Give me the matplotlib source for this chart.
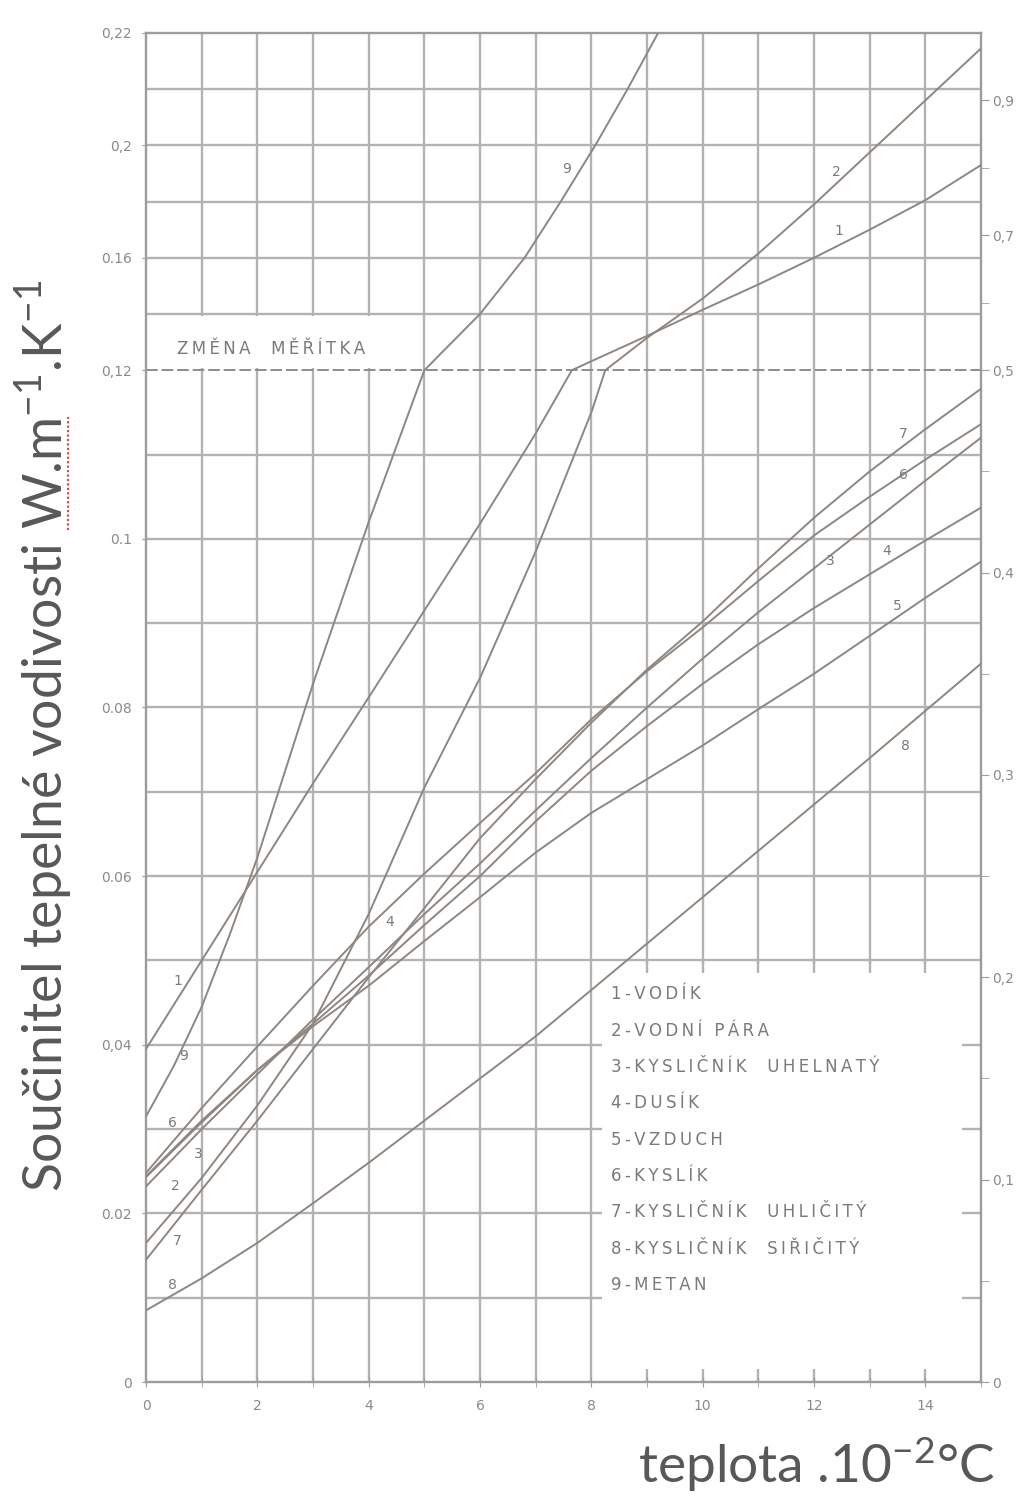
import numpy as np
import matplotlib.pyplot as plt
from matplotlib.patches import Rectangle
from matplotlib.lines import Line2D

plt.rcParams["mathtext.default"] = "regular"

# teplota .10^-2 °C
t = [0, 1, 2, 3, 4, 5, 6, 7, 8, 9, 10, 11, 12, 13, 14, 15]

# 1 - vodik
t1 = [0, 1, 2, 3, 4, 5, 6, 7, 7.65, 8, 9, 10, 11, 12, 13, 14, 15]
lam1 = [0.0395, 0.050, 0.0605, 0.071, 0.0812, 0.0915, 0.1018, 0.1125, 0.12,
        0.1232, 0.1322, 0.1415, 0.1505, 0.160, 0.170, 0.1805, 0.193]
# 2 - vodni para
t2 = [0, 1, 2, 3, 4, 5, 6, 7, 8, 8.25, 9, 10, 11, 12, 13, 14, 15]
lam2 = [0.0165, 0.0242, 0.0328, 0.0425, 0.0555, 0.0705, 0.0835, 0.0985, 0.115,
        0.12, 0.1315, 0.1455, 0.1615, 0.179, 0.1975, 0.216, 0.2345]
# 3 az 8 - stejna teplotni rada t
lam3 = [0.0232, 0.030, 0.0365, 0.043, 0.0492, 0.0555, 0.0615, 0.0678, 0.074,
        0.080, 0.0858, 0.0913, 0.0965, 0.1017, 0.1069, 0.112]
lam4 = [0.0243, 0.0308, 0.037, 0.0425, 0.0482, 0.0542, 0.060, 0.0665, 0.0725,
        0.0778, 0.0828, 0.0875, 0.0918, 0.0958, 0.0998, 0.1037]
lam5 = [0.0244, 0.031, 0.037, 0.0422, 0.047, 0.0523, 0.0575, 0.0628, 0.0675,
        0.0715, 0.0755, 0.0798, 0.084, 0.0885, 0.093, 0.0973]
lam6 = [0.0248, 0.0325, 0.0398, 0.047, 0.054, 0.0603, 0.0663, 0.0722, 0.0786,
        0.0843, 0.0895, 0.095, 0.1004, 0.105, 0.1094, 0.1136]
lam7 = [0.0145, 0.0228, 0.031, 0.0395, 0.048, 0.0562, 0.0645, 0.0715, 0.0782,
        0.0845, 0.0902, 0.0965, 0.1025, 0.108, 0.113, 0.1178]
lam8 = [0.0085, 0.0123, 0.0165, 0.0212, 0.026, 0.031, 0.036, 0.041, 0.0465,
        0.052, 0.0575, 0.063, 0.0685, 0.074, 0.0796, 0.0852]
# 9 - metan
t9 = [0, 0.5, 1, 1.5, 2, 3, 4, 5, 6, 6.8, 7.45, 8.07, 8.65, 9.2]
lam9 = [0.0315, 0.0375, 0.0445, 0.053, 0.0622, 0.0828, 0.102, 0.12, 0.14,
        0.16, 0.18, 0.20, 0.22, 0.24]

gases = ["1-VODÍK", "2-VODNÍ PÁRA", "3-KYSLIČNÍK  UHELNATÝ", "4-DUSÍK",
         "5-VZDUCH", "6-KYSLÍK", "7-KYSLIČNÍK  UHLIČITÝ",
         "8-KYSLIČNÍK  SIŘIČITÝ", "9-METAN"]

left_ticks = [0, 0.02, 0.04, 0.06, 0.08, 0.10, 0.12, 0.16, 0.20, 0.24]
left_labels = ["0", "0.02", "0,04", "0.06", "0.08", "0.1", "0,12", "0.16",
               "0,2", "0,22"]
right_ticks = [0, 0.1, 0.2, 0.3, 0.4, 0.5, 0.7, 0.9]
right_labels = ["0", "0,1", "0,2", "0,3", "0,4", "0,5", "0,7", "0,9"]
right_minor = [0.05, 0.15, 0.25, 0.35, 0.45, 0.6, 0.8]
LEFT_PER_RIGHT = 0.24

# cisla u krivek: (text, x, y)
curve_tags = [("9", 7.55, 0.1916), ("2", 12.4, 0.1906), ("1", 12.45, 0.1694),
              ("7", 13.6, 0.1124), ("6", 13.6, 0.1076), ("3", 12.3, 0.0974),
              ("4", 13.3, 0.0986), ("5", 13.5, 0.092), ("8", 13.65, 0.0754),
              ("4", 4.37, 0.0545), ("1", 0.58, 0.0476), ("9", 0.67, 0.0387),
              ("6", 0.47, 0.0307), ("3", 0.94, 0.0271), ("2", 0.52, 0.0232),
              ("7", 0.56, 0.0167), ("8", 0.47, 0.0115)]

BREAK = 0.12
GRID_C = "#b2b2b2"
LINE_C = "#8f8680"
TEXT_C = "#7a7a7a"


def fwd(y):
    y = np.asarray(y, dtype=float)
    return np.where(y <= BREAK, y, BREAK + (y - BREAK) / 3)


def inv(v):
    v = np.asarray(v, dtype=float)
    return np.where(v <= BREAK, v, BREAK + (v - BREAK) * 3)


def spaced(s):
    return "\u2009".join(s)


fig = plt.figure(figsize=(10.32, 14.97), dpi=100)
ax = fig.add_axes([0.1415, 0.0768, 0.8091, 0.9012])
ax.set_yscale("function", functions=(fwd, inv))
ax.set_xlim(0, 15)
ax.set_ylim(0, 0.24)

# mrizka
gx = np.arange(1, 15)
gy = np.r_[np.arange(0.01, 0.115, 0.01), np.arange(0.14, 0.235, 0.02)]
ax.vlines(gx, 0, 0.24, color=GRID_C, lw=1.7, zorder=0.5)
ax.hlines(gy, 0, 15, color=GRID_C, lw=1.7, zorder=0.5)
ax.hlines(BREAK, 0, 15, color="#8c8c8c", lw=1.4, ls=(0, (6, 2)), zorder=2)

# bile pole pod napisem a pro legendu
ax.add_patch(Rectangle((0.03, 0.1207), 4.5, 0.0185, fc="white", ec="none",
                       zorder=1))
ax.add_patch(Rectangle((8.03, 0.0004), 6.94, 0.0492, fc="white", ec="none",
                       zorder=1))
# zbytky mrizky po okraji legendy
ax.vlines(gx[gx > 8], 0, 0.0015, color=GRID_C, lw=1.7, zorder=1.2)
ax.vlines(gx[gx > 8], 0.0485, 0.05, color=GRID_C, lw=1.7, zorder=1.2)
ax.hlines(gy[gy < 0.05], 8, 8.2, color=GRID_C, lw=1.7, zorder=1.2)
ax.hlines(gy[gy < 0.05], 14.65, 15, color=GRID_C, lw=1.7, zorder=1.2)

for xs, ys in [(t1, lam1), (t2, lam2), (t, lam3), (t, lam4), (t, lam5),
               (t, lam6), (t, lam7), (t, lam8), (t9, lam9)]:
    ax.plot(xs, ys, color=LINE_C, lw=1.4, zorder=3)

for s, x, y in curve_tags:
    ax.text(x, y, s, fontsize=10, color=TEXT_C, ha="center", va="center",
            zorder=4)

ax.text(0.55, 0.1275, spaced("ZMĚNA  MĚŘÍTKA"), fontsize=12, color=TEXT_C,
        ha="left", va="center", zorder=4)

for i, g in enumerate(gases):
    ax.text(8.35, 0.046 - i * 0.00431, spaced(g), fontsize=12, color=TEXT_C,
            ha="left", va="center", zorder=4)

for sp in ax.spines.values():
    sp.set_color("#9c9c9c")
    sp.set_linewidth(1.7)

ax.set_yticks(left_ticks)
ax.set_yticklabels(left_labels)
ax.set_yticks([], minor=True)
ax.set_xticks(np.arange(0, 15, 2))
ax.set_xticks(np.arange(1, 16, 2), minor=True)
ax.tick_params(axis="y", which="major", length=3, pad=7, labelsize=10,
               colors="#9c9c9c", labelcolor="#8a8a8a")
ax.tick_params(axis="x", which="both", direction="inout", length=7, pad=9,
               labelsize=10, colors="#9c9c9c", labelcolor="#8a8a8a")

ax2 = ax.twinx()
ax2.set_yscale("function", functions=(fwd, inv))
ax2.set_ylim(0, 0.24)
ax2.set_yticks([r * LEFT_PER_RIGHT for r in right_ticks])
ax2.set_yticklabels(right_labels)
ax2.set_yticks([r * LEFT_PER_RIGHT for r in right_minor], minor=True)
ax2.tick_params(axis="y", which="both", length=6, pad=2, labelsize=10,
                colors="#9c9c9c", labelcolor="#8a8a8a")
for sp in ax2.spines.values():
    sp.set_visible(False)

# popisy os
ylab_str = r"Součinitel tepelné vodivosti W.m$^{-1}$.K$^{-1}$"
ylab = fig.text(44 / 1032, 1 - 736 / 1497, ylab_str, rotation=90,
                ha="center", va="center", fontsize=36, color="#585858",
                family="Lato")
xlab = fig.text(995 / 1032, 1 - 1483 / 1497, r"teplota .10$^{-2}$°C",
                ha="right", va="baseline", fontsize=36, color="#585858",
                family="Lato")

fig.canvas.draw()
rend = fig.canvas.get_renderer()
ysize = 36 * 912 / ylab.get_window_extent(rend).height
ylab.set_fontsize(ysize)
xlab.set_fontsize(36 * 357 / xlab.get_window_extent(rend).width)
fig.canvas.draw()


# cervene podtrzeni "W.m" (kontrola pravopisu)
def text_w(s):
    tmp = fig.text(0, 0, s, fontsize=ysize, family="Lato")
    w = tmp.get_window_extent(rend).width
    tmp.remove()
    return w


bb = ylab.get_window_extent(rend)
w0 = text_w("Součinitel tepelné vodivosti ")
w1 = text_w("Součinitel tepelné vodivosti W.m")
H = fig.bbox.height
W = fig.bbox.width
fig.add_artist(Line2D([(bb.x1 - 7) / W] * 2,
                      [(bb.y0 + w0) / H, (bb.y0 + w1) / H],
                      transform=fig.transFigure, color="#d05050", lw=1.6,
                      ls=(0, (1, 1))))

fig.savefig("out.png", dpi=100)
